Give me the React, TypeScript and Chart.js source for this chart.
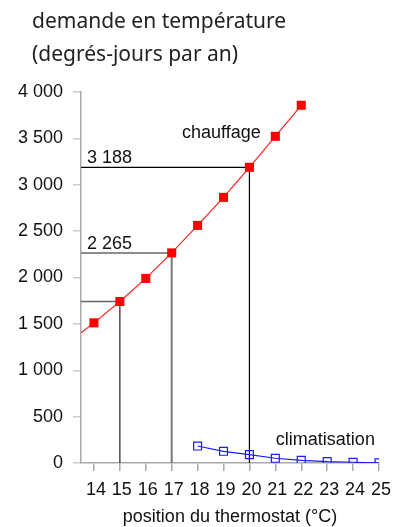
import React, { useEffect, useRef } from "react";
import { Chart, registerables } from "chart.js";

Chart.register(...registerables);

const titleLines = ["demande en température", "(degrés-jours par an)"];
const xTicks = [14, 15, 16, 17, 18, 19, 20, 21, 22, 23, 24, 25];
const yTicks = [0, 500, 1000, 1500, 2000, 2500, 3000, 3500, 4000];
const heatX = [13.5, 14, 15, 16, 17, 18, 19, 20, 21, 22];
const heatY = [1405, 1511, 1741, 1990, 2265, 2562, 2864, 3188, 3522, 3857];
const coolX = [18, 19, 20, 21, 22, 23, 24, 25];
const coolY = [183, 126, 90, 51, 29, 15, 8, 2];
const refX = [15, 17, 20];
const refY = [1741, 2265, 3188];
const refLabels = ["", "2 265", "3 188"];
const heatLabel = "chauffage";
const coolLabel = "climatisation";
const xTitle = "position du thermostat (°C)";

const FONT = "'Liberation Sans', Arial, sans-serif";

const fmt = (v: number) => {
  const s = Math.round(v).toString();
  return s.length > 3 ? s.slice(0, s.length - 3) + " " + s.slice(-3) : s;
};

const overlay = {
  id: "overlay",
  beforeDatasetsDraw(chart: any) {
    const ctx = chart.ctx;
    const xs = chart.scales.x;
    const ys = chart.scales.y;
    const left = chart.chartArea.left;
    const styles = [
      { h: "#666", hw: 1.5, v: "#222", vw: 1.2 },
      { h: "#666", hw: 1.5, v: "#777", vw: 2 },
      { h: "#000", hw: 1.2, v: "#000", vw: 1.2 },
    ];
    ctx.save();
    refX.forEach((xv, i) => {
      const px = xs.getPixelForValue(xv);
      const py = ys.getPixelForValue(refY[i]);
      const p0 = ys.getPixelForValue(0);
      const st = styles[i];
      ctx.strokeStyle = st.h;
      ctx.lineWidth = st.hw;
      ctx.beginPath();
      ctx.moveTo(left, py);
      ctx.lineTo(px, py);
      ctx.stroke();
      ctx.strokeStyle = st.v;
      ctx.lineWidth = st.vw;
      ctx.beginPath();
      ctx.moveTo(px, py);
      ctx.lineTo(px, p0);
      ctx.stroke();
      if (refLabels[i]) {
        ctx.fillStyle = "#111";
        ctx.font = "18px " + FONT;
        ctx.textAlign = "left";
        ctx.textBaseline = "alphabetic";
        ctx.fillText(refLabels[i], left + 6, py - 4);
      }
    });
    ctx.restore();
  },
  afterDraw(chart: any) {
    const ctx = chart.ctx;
    const xs = chart.scales.x;
    const ys = chart.scales.y;
    ctx.save();
    ctx.fillStyle = "#222";
    ctx.font = "21px 'Noto Sans', sans-serif";
    ctx.textAlign = "left";
    ctx.textBaseline = "middle";
    ctx.fillText(titleLines[0], 32, 22);
    ctx.fillText(titleLines[1], 32, 55);
    ctx.fillStyle = "#111";
    ctx.font = "18px " + FONT;
    ctx.textAlign = "left";
    ctx.fillText(heatLabel, xs.getPixelForValue(17.4), ys.getPixelForValue(3557));
    ctx.fillText(coolLabel, xs.getPixelForValue(21.02), ys.getPixelForValue(245));
    ctx.textAlign = "center";
    const a = chart.chartArea;
    ctx.fillText(xTitle, (a.left + a.right) / 2, 517);
    ctx.restore();
  },
};

export default function App() {
  const ref = useRef<HTMLCanvasElement>(null);
  useEffect(() => {
    if (!ref.current) return;
    const chart = new Chart(ref.current, {
      type: "scatter",
      data: {
        datasets: [
          {
            data: heatX.map((x, i) => ({ x, y: heatY[i] })),
            showLine: true,
            borderColor: "#ff2020",
            borderWidth: 1.2,
            backgroundColor: "#ff0000",
            pointStyle: "rect",
            pointRadius: heatX.map((x) => (x < 14 ? 0 : 6.4)),
            pointBorderWidth: 0,
          },
          {
            data: coolX.map((x, i) => ({ x, y: coolY[i] })),
            showLine: true,
            borderColor: "#1a1aff",
            borderWidth: 1.2,
            backgroundColor: "rgba(0,0,0,0)",
            pointStyle: "rect",
            pointRadius: 5.6,
            pointBorderWidth: 1.2,
            pointBorderColor: "#1a1aff",
          },
        ],
      },
      options: {
        animation: false,
        responsive: false,
        maintainAspectRatio: false,
        layout: { padding: { top: 92, right: 16, left: 0, bottom: 0 } },
        plugins: {
          legend: { display: false },
          tooltip: { enabled: false },
        },
        scales: {
          x: {
            type: "linear",
            min: 13.5,
            max: 25,
            afterBuildTicks: (s: any) => {
              s.ticks = xTicks.map((v) => ({ value: v }));
            },
            afterFit: (s: any) => {
              s.height = 64;
            },
            border: { color: "#aaa", width: 1.5 },
            grid: { drawOnChartArea: false, color: "#aaa", tickLength: 8, lineWidth: 1.5 },
            ticks: {
              color: "#111",
              font: { family: FONT, size: 18 },
              padding: 8,
              labelOffset: 2,
              maxRotation: 0,
              autoSkip: false,
              callback: (v: any) => String(v),
            },
          },
          y: {
            type: "linear",
            min: 0,
            max: 4000,
            afterBuildTicks: (s: any) => {
              s.ticks = yTicks.map((v) => ({ value: v }));
            },
            afterFit: (s: any) => {
              s.width = 81;
            },
            border: { color: "#aaa", width: 1.5 },
            grid: { drawOnChartArea: false, color: "#ccc", tickLength: 8, lineWidth: 1.5 },
            ticks: {
              color: "#111",
              font: { family: FONT, size: 18 },
              padding: 10,
              callback: (v: any) => fmt(Number(v)),
            },
          },
        },
      },
      plugins: [overlay],
    });
    return () => chart.destroy();
  }, []);
  return (
    <div style={{ position: "fixed", left: 0, top: 0, width: 397, height: 527, background: "#fff" }}>
      <canvas ref={ref} width={397} height={527} style={{ width: 397, height: 527 }} />
    </div>
  );
}
